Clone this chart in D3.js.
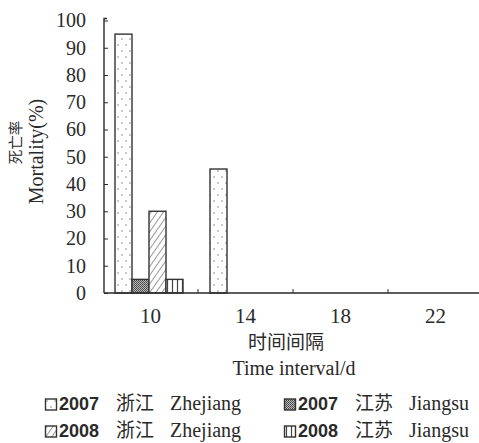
<!DOCTYPE html>
<html><head><meta charset="utf-8">
<script src="https://cdn.jsdelivr.net/npm/d3@7"></script>
<style>body{margin:0;background:#fff}</style>
</head><body>
<svg id="c" width="479" height="443"></svg>
<script>
const categories = ["10","14","18","22"];
const seriesYears = ["2007","2007","2008","2008"];
const seriesCN = ["浙江","江苏","浙江","江苏"];
const seriesEN = ["Zhejiang","Jiangsu","Zhejiang","Jiangsu"];
const s2007Zhejiang = [95, 45.5, 0, 0];
const s2007Jiangsu = [5, 0, 0, 0];
const s2008Zhejiang = [30, 0, 0, 0];
const s2008Jiangsu = [5, 0, 0, 0];
const yTicks = [0,10,20,30,40,50,60,70,80,90,100];

const series = [s2007Zhejiang, s2007Jiangsu, s2008Zhejiang, s2008Jiangsu];
const svg = d3.select("#c");
const ink = "#2a2a2a";
const serif = "'Liberation Serif','Times New Roman',serif";
const cjk = "'Noto Sans CJK SC',sans-serif";

// patterns
const defs = svg.append("defs");
const p0 = defs.append("pattern").attr("id","pDots").attr("patternUnits","userSpaceOnUse").attr("width",8).attr("height",12);
p0.append("rect").attr("width",8).attr("height",12).attr("fill","#fff");
p0.append("circle").attr("cx",2).attr("cy",3).attr("r",0.75).attr("fill","#777");
p0.append("circle").attr("cx",6).attr("cy",9).attr("r",0.75).attr("fill","#777");
const p1 = defs.append("pattern").attr("id","pDark").attr("patternUnits","userSpaceOnUse").attr("width",2).attr("height",2);
p1.append("rect").attr("width",2).attr("height",2).attr("fill","#bbb");
p1.append("rect").attr("width",1).attr("height",1).attr("fill","#444");
p1.append("rect").attr("x",1).attr("y",1).attr("width",1).attr("height",1).attr("fill","#555");
const p2 = defs.append("pattern").attr("id","pDiag").attr("patternUnits","userSpaceOnUse").attr("width",5).attr("height",5).attr("patternTransform","rotate(35)");
p2.append("rect").attr("width",5).attr("height",5).attr("fill","#fff");
p2.append("line").attr("x1",0).attr("y1",0).attr("x2",0).attr("y2",5).attr("stroke","#444").attr("stroke-width",1.1);
const p3 = defs.append("pattern").attr("id","pVert").attr("patternUnits","userSpaceOnUse").attr("width",5).attr("height",5);
p3.append("rect").attr("width",5).attr("height",5).attr("fill","#fff");
p3.append("line").attr("x1",2.5).attr("y1",0).attr("x2",2.5).attr("y2",5).attr("stroke","#444").attr("stroke-width",1.2);
const fills = ["url(#pDots)","url(#pDark)","url(#pDiag)","url(#pVert)"];

const x0 = d3.scaleBand().domain(categories).range([103, 483]).paddingInner(0).paddingOuter(0);
const x1 = d3.scaleBand().domain(d3.range(4)).range([12, 80]);
const y = d3.scaleLinear().domain([0,100]).range([293, 20.5]);

// bars
categories.forEach((c, ci) => {
  series.forEach((s, si) => {
    const v = s[ci];
    if (v <= 0) return;
    svg.append("rect")
      .attr("x", x0(c) + x1(si))
      .attr("y", y(v))
      .attr("width", x1.bandwidth())
      .attr("height", y(0) - y(v))
      .attr("fill", fills[si])
      .attr("stroke", "#333").attr("stroke-width", 1.4);
  });
});

// y axis
const yAxis = d3.axisLeft(y).tickValues(yTicks).tickSize(-4).tickPadding(18);
const gy = svg.append("g").attr("transform","translate(104,0)").call(yAxis);
gy.select(".domain").attr("d","M3,18.5H0V293").attr("stroke",ink).attr("stroke-width",1.4).attr("fill","none");
gy.selectAll(".tick line").attr("stroke",ink);
gy.selectAll("text").attr("font-family",serif).attr("font-size",20).attr("fill",ink);

// x axis
const xAxis = d3.axisBottom(x0).tickSize(0).tickPadding(15);
const gx = svg.append("g").attr("transform","translate(0,293)").call(xAxis);
gx.select(".domain").attr("d","M104,0H479").attr("stroke",ink).attr("stroke-width",1.4);
gx.selectAll("text").attr("font-family",serif).attr("font-size",21).attr("fill",ink);
gx.selectAll(".bnd").data(categories.slice(1)).enter().append("line")
  .attr("x1", d => x0(d)).attr("x2", d => x0(d)).attr("y1",0).attr("y2",-4).attr("stroke",ink);

// axis titles
svg.append("text").attr("x",286).attr("y",349).attr("text-anchor","middle")
  .attr("font-family",cjk).attr("font-size",19).attr("fill",ink).text("时间间隔");
svg.append("text").attr("x",294).attr("y",375).attr("text-anchor","middle")
  .attr("font-family",serif).attr("font-size",20).attr("fill",ink).text("Time interval/d");
svg.append("text").attr("transform","translate(21,142.5) rotate(-90)").attr("text-anchor","middle")
  .attr("font-family",cjk).attr("font-size",14.5).attr("fill",ink).text("死亡率");
svg.append("text").attr("transform","translate(43,151.5) rotate(-90)").attr("text-anchor","middle")
  .attr("font-family",serif).attr("font-size",20).attr("fill",ink).text("Mortality(%)");

// legend
const legPos = [[45,410],[284,410],[45,437],[284,437]];
seriesYears.forEach((yr, i) => {
  const [lx, ly] = legPos[i];
  const g = svg.append("g").attr("transform",`translate(${lx},${ly})`);
  g.append("rect").attr("x",0.5).attr("y",-11).attr("width",11).attr("height",11)
    .attr("fill", fills[i]).attr("stroke","#333").attr("stroke-width",1.4);
  g.append("text").attr("x",14).attr("y",0).attr("fill",ink)
    .attr("font-family","'Liberation Sans',Arial,sans-serif").attr("font-weight","bold").attr("font-size",18).text(yr);
  g.append("text").attr("x",71).attr("y",0).attr("fill",ink)
    .attr("font-family",cjk).attr("font-size",19).text(seriesCN[i]);
  g.append("text").attr("x",125).attr("y",0).attr("fill",ink)
    .attr("font-family",serif).attr("font-size",20).text(seriesEN[i]);
});
</script>
</body></html>
